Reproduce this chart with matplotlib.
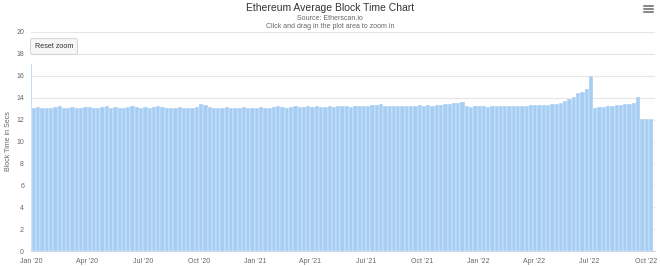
import matplotlib
matplotlib.use("Agg")
import matplotlib.pyplot as plt
import matplotlib.dates as mdates
import numpy as np
import datetime as dt

plt.rcParams['font.family'] = ['Liberation Sans', 'DejaVu Sans']

# ---- data (weekly averages; first entry is the single day Jan 1 2020) ----
first_day = "2020-01-01"
first_value = 17.1
week_start = "2020-01-02"
block_time_2020 = [
    13.1, 13.15, 13.1, 13.1, 13.1, 13.15, 13.2, 13.1, 13.1, 13.15, 13.1, 13.1, 13.15,
    13.15, 13.1, 13.1, 13.15, 13.2, 13.1, 13.15, 13.1, 13.1, 13.15, 13.2, 13.15, 13.1,
    13.15, 13.1, 13.15, 13.2, 13.15, 13.1, 13.1, 13.1, 13.15, 13.1, 13.05, 13.05, 13.15,
    13.45, 13.35, 13.15, 13.1, 13.1, 13.1, 13.15, 13.1, 13.1, 13.1, 13.15, 13.1, 13.1,
]
block_time_2021 = [
    13.1, 13.15, 13.1, 13.1, 13.15, 13.2, 13.15, 13.1, 13.15, 13.2, 13.15, 13.15, 13.2,
    13.15, 13.2, 13.15, 13.15, 13.2, 13.15, 13.2, 13.25, 13.2, 13.15, 13.2, 13.25, 13.2,
    13.25, 13.3, 13.35, 13.4, 13.25, 13.2, 13.2, 13.2, 13.2, 13.25, 13.2, 13.25, 13.3,
    13.25, 13.3, 13.25, 13.3, 13.35, 13.4, 13.45, 13.5, 13.55, 13.6, 13.2, 13.15, 13.2,
]
block_time_2022 = [
    13.2, 13.2, 13.15, 13.2, 13.25, 13.2, 13.2, 13.2, 13.25, 13.2, 13.25, 13.25, 13.3,
    13.3, 13.3, 13.35, 13.35, 13.4, 13.45, 13.55, 13.7, 13.9, 14.1, 14.4, 14.5, 14.8,
    15.95,
    13.1, 13.15, 13.15, 13.2, 13.25, 13.3, 13.35, 13.4, 13.45, 13.55, 14.1,
    12.05, 12.05, 12.05,
]
y_ticks = [0, 2, 4, 6, 8, 10, 12, 14, 16, 18, 20]
x_tick_labels = ["Jan '20", "Apr '20", "Jul '20", "Oct '20", "Jan '21", "Apr '21",
                 "Jul '21", "Oct '21", "Jan '22", "Apr '22", "Jul '22", "Oct '22"]
x_tick_dates = ["2020-01-01", "2020-04-01", "2020-07-01", "2020-10-01", "2021-01-01",
                "2021-04-01", "2021-07-01", "2021-10-01", "2022-01-01", "2022-04-01",
                "2022-07-01", "2022-10-01"]

weekly = block_time_2020 + block_time_2021 + block_time_2022
d0 = np.datetime64(week_start)
starts = [np.datetime64(first_day)] + [d0 + np.timedelta64(7 * i, 'D') for i in range(len(weekly))]
widths = [1.0] + [7.0] * len(weekly)
values = [first_value] + weekly
xnum = mdates.date2num(np.array(starts, dtype='datetime64[D]').astype('datetime64[s]').astype(dt.datetime))

fig = plt.figure(figsize=(6.6, 2.66), dpi=100)
ax = fig.add_axes([31 / 660, 15 / 266, 624 / 660, 219 / 266])

ax.bar(xnum, values, width=widths, align='edge', color='#a6cdf3',
       edgecolor='white', linewidth=0.25, zorder=2)

ax.set_ylim(0, 20)
ax.set_yticks(y_ticks)
ax.set_yticklabels([str(v) for v in y_ticks], fontsize=5, color='#666666')
tick_nums = mdates.date2num([dt.datetime.strptime(s, "%Y-%m-%d") for s in x_tick_dates])
ax.set_xticks(tick_nums)
ax.set_xticklabels(x_tick_labels, fontsize=5, color='#666666')
x_left = mdates.date2num(dt.datetime(2020, 1, 1))
ax.set_xlim(x_left - 0.5, x_left + 1019)

ax.grid(axis='y', color='#e6e6e6', linewidth=0.8, zorder=0)
ax.tick_params(axis='both', length=0, pad=5)
for s in ['top', 'right', 'left']:
    ax.spines[s].set_visible(False)
ax.spines['bottom'].set_color('#ccd6eb')
ax.spines['bottom'].set_linewidth(0.8)

ax.set_ylabel("Block Time in Secs", fontsize=5, color='#666666', labelpad=3)

fig.text(0.5, 1 - 8 / 266, "Ethereum Average Block Time Chart", ha='center', va='center',
         fontsize=7.5, color='#333333')
fig.text(0.5, 1 - 18 / 266, "Source: Etherscan.io", ha='center', va='center',
         fontsize=5, color='#666666')
fig.text(0.5, 1 - 26 / 266, "Click and drag in the plot area to zoom in", ha='center',
         va='center', fontsize=5, color='#666666')

# Reset zoom button
fig.text(54 / 660, 1 - 46.5 / 266, "Reset zoom", ha='center', va='center', fontsize=5.2,
         color='#333333',
         bbox=dict(boxstyle='round,pad=0.6,rounding_size=0.25', facecolor='#f7f7f7',
                   edgecolor='#cccccc', linewidth=0.6))

# Menu icon
for yy in (5.5, 8.5, 11.5):
    fig.add_artist(plt.Line2D([644 / 660, 653 / 660], [1 - yy / 266, 1 - yy / 266],
                              color='#666666', linewidth=1.1, transform=fig.transFigure))

fig.savefig("out.png", dpi=100, facecolor='white')
